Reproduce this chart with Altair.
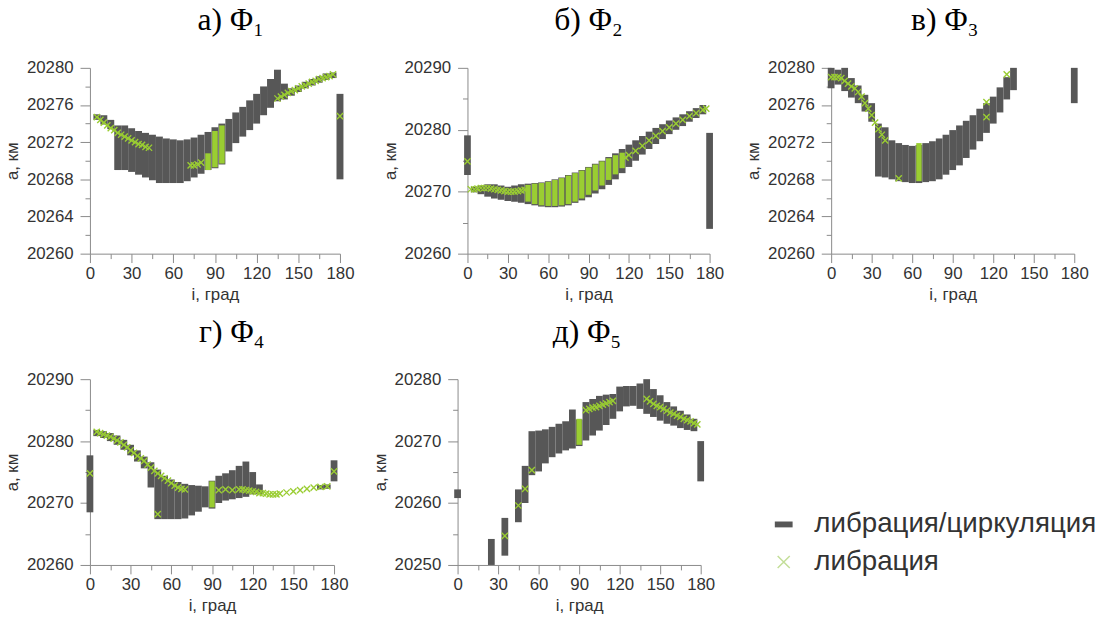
import altair as alt
import pandas as pd

GRAY = "#575757"
GREEN = "#9ACD32"
XCROSS = "M-1,-1L1,1M-1,1L1,-1"
DASH = "M-1,-0.33L1,-0.33L1,0.33L-1,0.33Z"

# ---------- а) Φ1 ----------
a_bar_i = [5, 10, 15, 20, 25, 30, 35, 40, 45, 50, 55, 60, 65, 70, 75, 80, 85, 90, 95, 100,
           105, 110, 115, 120, 125, 130, 135, 140, 145, 150, 155, 160, 165, 170, 175, 180]
a_bar_lo = [20274.4, 20273.9, 20273.4, 20269.0, 20269.0, 20268.8, 20268.5, 20268.2, 20267.9, 20267.6,
            20267.6, 20267.6, 20267.6, 20267.8, 20268.2, 20268.6, 20269.0, 20269.2, 20269.6, 20271.0,
            20271.9, 20272.6, 20273.3, 20274.0, 20274.9, 20275.7, 20276.4, 20276.6, 20277.0, 20277.4,
            20277.8, 20278.1, 20278.4, 20278.7, 20278.9, 20268.0]
a_bar_hi = [20275.0, 20274.9, 20274.4, 20273.8, 20273.8, 20273.5, 20273.2, 20273.0, 20272.8, 20272.6,
            20272.4, 20272.3, 20272.2, 20272.3, 20272.5, 20272.8, 20273.1, 20273.6, 20274.0, 20274.5,
            20275.2, 20275.8, 20276.5, 20277.2, 20278.0, 20278.8, 20279.8, 20278.3, 20277.8, 20278.1,
            20278.5, 20278.8, 20279.1, 20279.4, 20279.5, 20277.2]
a_lib_i = [85, 90, 95]
a_lib_lo = [20269.0, 20269.3, 20269.7]
a_lib_hi = [20270.8, 20273.2, 20273.8]
a_x_i = [5, 7.5, 10, 12.5, 15, 17.5, 20, 22.5, 25, 27.5, 30, 32.5, 35, 37.5, 40, 42.5,
         72.5, 75, 77.5, 80,
         135, 137.5, 140, 142.5, 145, 147.5, 150, 152.5, 155, 157.5, 160, 162.5, 165, 167.5, 170,
         172.5, 175, 180]
a_x_a = [20274.7, 20274.4, 20274.1, 20273.8, 20273.5, 20273.3, 20273.0, 20272.8, 20272.6, 20272.4,
         20272.2, 20272.0, 20271.8, 20271.7, 20271.5, 20271.4,
         20269.5, 20269.5, 20269.6, 20269.8,
         20276.7, 20276.9, 20277.1, 20277.3, 20277.5, 20277.6, 20277.8, 20278.0, 20278.1, 20278.3,
         20278.5, 20278.6, 20278.8, 20278.9, 20279.0, 20279.1, 20279.3, 20274.8]

# ---------- б) Φ2 ----------
b_bar_i = [0, 5, 10, 15, 20, 25, 30, 35, 40, 45, 50, 55, 60, 65, 70, 75, 80, 85, 90, 95, 100,
           105, 110, 115, 120, 125, 130, 135, 140, 145, 150, 155, 160, 165, 170, 175, 180]
b_bar_lo = [20272.7, 20269.9, 20269.6, 20269.2, 20268.9, 20268.7, 20268.5, 20268.4, 20268.2, 20268.0,
            20267.8, 20267.6, 20267.5, 20267.5, 20267.6, 20267.8, 20268.2, 20268.6, 20269.1, 20269.7,
            20270.4, 20271.1, 20272.0, 20273.0, 20274.0, 20275.0, 20276.0, 20276.9, 20277.7, 20278.5,
            20279.3, 20280.0, 20280.6, 20281.3, 20281.9, 20282.5, 20264.0]
b_bar_hi = [20279.1, 20270.8, 20271.0, 20271.2, 20271.2, 20271.0, 20270.8, 20271.0, 20271.2, 20271.3,
            20271.4, 20271.5, 20271.7, 20272.0, 20272.3, 20272.7, 20273.1, 20273.5, 20274.0, 20274.5,
            20275.0, 20275.6, 20276.2, 20276.9, 20277.6, 20278.3, 20279.0, 20279.7, 20280.3, 20280.9,
            20281.5, 20282.0, 20282.5, 20283.0, 20283.5, 20284.0, 20279.5]
b_lib_i = [45, 50, 55, 60, 65, 70, 75, 80, 85, 90, 95, 100, 105, 110, 115]
b_lib_lo = [20268.4, 20268.0, 20267.8, 20267.7, 20267.7, 20267.8, 20268.0, 20268.4, 20268.9, 20269.5,
            20270.2, 20271.0, 20271.9, 20272.8, 20273.8]
b_lib_hi = [20271.1, 20271.3, 20271.4, 20271.6, 20271.9, 20272.2, 20272.6, 20273.0, 20273.4, 20273.9,
            20274.4, 20274.9, 20275.4, 20275.9, 20276.3]
b_x_i = [0, 2.5, 5, 7.5, 10, 12.5, 15, 17.5, 20, 22.5, 25, 27.5, 30, 32.5, 35, 37.5, 40, 42.5,
         117.5, 120, 125, 130, 135, 140, 145, 150, 155, 160, 165, 170, 175, 177.5]
b_x_a = [20274.9, 20270.4, 20270.4, 20270.5, 20270.6, 20270.6, 20270.6, 20270.5, 20270.4, 20270.3,
         20270.2, 20270.1, 20270.0, 20270.0, 20270.0, 20270.1, 20270.2, 20270.3,
         20275.5, 20275.9, 20276.6, 20277.4, 20278.3, 20279.0, 20279.8, 20280.4, 20281.0, 20281.6,
         20282.2, 20282.7, 20283.2, 20283.4]

# ---------- в) Φ3 ----------
c_bar_i = [0, 5, 10, 15, 20, 25, 30, 35, 40, 45, 50, 55, 60, 65, 70, 75, 80, 85, 90, 95, 100,
           105, 110, 115, 120, 125, 130, 135, 180]
c_bar_lo = [20277.8, 20278.2, 20277.5, 20276.8, 20276.2, 20275.3, 20274.2, 20268.3, 20268.2, 20268.0,
            20267.8, 20267.7, 20267.6, 20267.6, 20267.7, 20267.8, 20268.0, 20268.5, 20269.0, 20269.5,
            20270.3, 20271.2, 20272.1, 20273.0, 20274.0, 20275.2, 20276.6, 20277.6, 20276.2]
c_bar_hi = [20280.0, 20279.8, 20280.0, 20278.9, 20278.1, 20277.1, 20276.2, 20274.0, 20273.6, 20272.2,
            20271.9, 20271.7, 20271.6, 20271.7, 20271.9, 20272.1, 20272.4, 20272.8, 20273.3, 20273.8,
            20274.3, 20274.9, 20275.6, 20276.2, 20276.9, 20277.9, 20279.0, 20280.0, 20280.0]
c_lib_i = [65]
c_lib_lo = [20267.8]
c_lib_hi = [20271.9]
c_x_i = [0, 2.5, 5, 7.5, 10, 12.5, 15, 17.5, 20, 22.5, 25, 27.5, 30, 32.5, 35, 37.5, 40,
         50, 115, 115, 130]
c_x_a = [20279.0, 20279.0, 20279.0, 20278.9, 20278.6, 20278.3, 20278.0, 20277.8, 20277.4, 20276.9,
         20276.2, 20275.6, 20274.9, 20274.1, 20273.4, 20272.8, 20272.2,
         20268.1, 20276.3, 20274.7, 20279.3]

# ---------- г) Φ4 ----------
d_bar_i = [0, 5, 10, 15, 20, 25, 30, 35, 40, 45, 50, 55, 60, 65, 70, 75, 80, 85, 90, 95, 100,
           105, 110, 115, 120, 125, 170, 175, 180]
d_bar_lo = [20268.5, 20280.8, 20280.5, 20280.0, 20279.4, 20278.6, 20277.7, 20276.7, 20275.6, 20272.5,
            20267.4, 20267.4, 20267.4, 20267.4, 20267.5, 20268.0, 20268.6, 20269.3, 20269.1, 20270.0,
            20270.4, 20270.6, 20270.8, 20271.0, 20271.4, 20271.4, 20272.2, 20272.3, 20273.5]
d_bar_hi = [20277.7, 20281.8, 20281.6, 20281.3, 20280.9, 20280.2, 20279.4, 20278.5, 20277.5, 20276.6,
            20275.4, 20274.4, 20273.8, 20273.4, 20273.1, 20272.9, 20272.8, 20272.7, 20273.6, 20274.4,
            20274.8, 20275.3, 20276.0, 20276.7, 20275.0, 20273.0, 20272.9, 20273.0, 20276.9]
d_lib_i = [90]
d_lib_lo = [20269.3]
d_lib_hi = [20273.5]
d_x_i = [0, 5, 7.5, 10, 12.5, 15, 17.5, 20, 22.5, 25, 27.5, 30, 32.5, 35, 37.5, 40, 42.5, 45,
         47.5, 50, 52.5, 55, 57.5, 60, 62.5, 65, 67.5, 70, 50, 95,
         100, 105, 110, 112.5, 115, 117.5, 120, 122.5, 125, 127.5, 130, 132.5, 135, 137.5, 140,
         145, 150, 155, 160, 165, 170, 175, 180]
d_x_a = [20274.8, 20281.5, 20281.3, 20281.1, 20280.9, 20280.7, 20280.4, 20280.1, 20279.8, 20279.4,
         20279.0, 20278.5, 20278.1, 20277.6, 20277.2, 20276.8, 20276.2, 20275.7, 20275.2, 20274.8,
         20274.4, 20274.0, 20273.6, 20273.2, 20272.8, 20272.5, 20272.3, 20272.2, 20268.2, 20272.1,
         20272.2, 20272.1, 20272.2, 20272.2, 20272.1, 20272.0, 20271.9, 20271.8, 20271.6, 20271.6,
         20271.5, 20271.4, 20271.4, 20271.4, 20271.5, 20271.7, 20271.9, 20272.1, 20272.3, 20272.5,
         20272.6, 20272.7, 20275.1]

# ---------- д) Φ5 ----------
e_bar_i = [0, 25, 35, 45, 50, 55, 60, 65, 70, 75, 80, 85, 90, 95, 100, 105, 110, 115, 120, 125,
           130, 135, 140, 145, 150, 155, 160, 165, 170, 175, 180]
e_bar_lo = [20260.8, 20250.0, 20251.5, 20256.9, 20260.0, 20264.5, 20265.1, 20266.4, 20267.4, 20268.0,
            20268.5, 20268.8, 20269.2, 20270.1, 20270.9, 20271.7, 20272.6, 20273.6, 20274.8, 20275.6,
            20275.7, 20275.2, 20274.4, 20273.9, 20273.3, 20272.8, 20272.5, 20272.1, 20271.8, 20271.6,
            20263.5]
e_bar_hi = [20262.2, 20254.2, 20257.6, 20262.2, 20266.0, 20271.6, 20271.7, 20271.9, 20272.3, 20272.8,
            20273.2, 20275.1, 20273.5, 20276.3, 20276.8, 20277.3, 20277.5, 20277.6, 20278.8, 20278.9,
            20278.9, 20279.3, 20280.0, 20278.4, 20277.4, 20276.3, 20275.6, 20274.9, 20274.3, 20273.6,
            20270.0]
e_lib_i = [90]
e_lib_lo = [20269.4]
e_lib_hi = [20273.6]
e_x_i = [35, 45, 50, 55, 95, 97.5, 100, 102.5, 105, 107.5, 110, 112.5, 115,
         140, 142.5, 145, 147.5, 150, 152.5, 155, 157.5, 160, 162.5, 165, 167.5, 170, 172.5, 175, 177.5]
e_x_a = [20254.7, 20259.6, 20262.3, 20265.3, 20275.0, 20275.2, 20275.4, 20275.5, 20275.7, 20275.9,
         20276.1, 20276.3, 20276.5,
         20276.8, 20276.4, 20276.0, 20275.7, 20275.5, 20275.2, 20274.9, 20274.6, 20274.4, 20274.1,
         20273.9, 20273.6, 20273.4, 20273.2, 20272.9, 20272.7]

legend_labels = ["либрация/циркуляция", "либрация"]

LABEL_FONT = "Liberation Sans"
AXIS_COLOR = "#8a8a8a"
TEXT_COLOR = "#333333"
PLOT_H = 188


def panel(title, bar_i, bar_lo, bar_hi, lib_i, lib_lo, lib_hi, x_i, x_a,
          ydom, ystep, ylab, width, title_dx):
    bars = pd.DataFrame({"i": bar_i, "lo": bar_lo, "hi": bar_hi})
    libs = pd.DataFrame({"i": lib_i, "lo": lib_lo, "hi": lib_hi})
    crosses = pd.DataFrame({"i": x_i, "a": x_a})

    xs = alt.Scale(domain=[0, 180], nice=False, zero=False)
    ys = alt.Scale(domain=ydom, nice=False, zero=False)
    xaxis = alt.Axis(
        values=list(range(0, 181, 15)),
        tickCount=100,
        labelExpr="datum.value % 30 == 0 ? datum.label : ''",
        labelOverlap=False,
        labelFlush=False,
        title="i, град",
        tickSize={"condition": {"test": "datum.value % 30 == 0", "value": 9}, "value": 5},
        labelPadding=3,
    )
    yaxis = alt.Axis(
        values=list(range(ydom[0], ydom[1] + 1, ystep)),
        tickCount=100,
        labelExpr=f"(datum.value - {ydom[0]}) % {ylab} == 0 ? datum.label : ''",
        labelOverlap=False,
        labelFlush=False,
        format="d",
        title="а, км",
        tickSize={"condition": {"test": f"(datum.value - {ydom[0]}) % {ylab} == 0", "value": 10},
                  "value": 5},
        labelPadding=7,
    )

    g = alt.Chart(bars).transform_calculate(
        x1="datum.i - 2.5", x2="datum.i + 2.5"
    ).mark_rect(color=GRAY, clip=False).encode(
        x=alt.X("x1:Q", scale=xs, axis=xaxis),
        x2="x2:Q",
        y=alt.Y("lo:Q", scale=ys, axis=yaxis),
        y2="hi:Q",
    )
    l = alt.Chart(libs).transform_calculate(
        x1="datum.i - 2.0", x2="datum.i + 2.0"
    ).mark_rect(color=GREEN).encode(
        x=alt.X("x1:Q", scale=xs), x2="x2:Q",
        y=alt.Y("lo:Q", scale=ys), y2="hi:Q",
    )
    c = alt.Chart(crosses).mark_point(
        shape=XCROSS, filled=False, stroke=GREEN, strokeWidth=1.4, size=40, opacity=1
    ).encode(
        x=alt.X("i:Q", scale=xs),
        y=alt.Y("a:Q", scale=ys),
    )
    return alt.layer(g, l, c).properties(
        width=width, height=PLOT_H,
        title=alt.TitleParams(title, font="Liberation Serif", fontSize=32,
                              fontWeight="normal", color="#000000", anchor="middle",
                              offset=22, dx=title_dx),
    )


pa = panel("а) Φ₁", a_bar_i, a_bar_lo, a_bar_hi, a_lib_i, a_lib_lo, a_lib_hi, a_x_i, a_x_a,
           [20260, 20280], 2, 4, 253, 16)
pb = panel("б) Φ₂", b_bar_i, b_bar_lo, b_bar_hi, b_lib_i, b_lib_lo, b_lib_hi, b_x_i, b_x_a,
           [20260, 20290], 5, 10, 245, 0)
pc = panel("в) Φ₃", c_bar_i, c_bar_lo, c_bar_hi, c_lib_i, c_lib_lo, c_lib_hi, c_x_i, c_x_a,
           [20260, 20280], 2, 4, 246, -8)
pd_ = panel("г) Φ₄", d_bar_i, d_bar_lo, d_bar_hi, d_lib_i, d_lib_lo, d_lib_hi, d_x_i, d_x_a,
            [20260, 20290], 5, 10, 247, 20)
pe = panel("д) Φ₅", e_bar_i, e_bar_lo, e_bar_hi, e_lib_i, e_lib_lo, e_lib_hi, e_x_i, e_x_a,
           [20250, 20280], 5, 10, 246, 8)

# ---------- legend ----------
leg = pd.DataFrame({"label": legend_labels})
ly = alt.Y("label:N", axis=None,
           scale=alt.Scale(type="point", domain=legend_labels, range=[147, 185], padding=0))
leg_bar = alt.Chart(leg).transform_filter(
    alt.datum.label == legend_labels[0]
).mark_point(shape=DASH, filled=True, color=GRAY, size=324, opacity=1).encode(
    x=alt.value(47), y=ly)
leg_x = alt.Chart(leg).transform_filter(
    alt.datum.label == legend_labels[1]
).mark_point(shape=XCROSS, filled=False, stroke="#c3de98", strokeWidth=1.5, size=150, opacity=1).encode(
    x=alt.value(47), y=ly)
leg_txt = alt.Chart(leg).mark_text(
    align="left", baseline="middle", font=LABEL_FONT, fontSize=28, color=TEXT_COLOR
).encode(x=alt.value(78), y=ly, text="label:N")
legend = alt.layer(leg_bar, leg_x, leg_txt).properties(width=350, height=PLOT_H)

top = alt.hconcat(alt.hconcat(pa, pb, spacing=26), pc, spacing=20)
bottom = alt.hconcat(pd_, pe, legend, spacing=22)

chart = alt.vconcat(top, bottom, spacing=14).properties(
    padding={"left": 3, "top": 1, "right": 0, "bottom": 0}
).configure_view(stroke=None).configure_axis(
    grid=False,
    domainColor=AXIS_COLOR,
    tickColor=AXIS_COLOR,
    labelFont=LABEL_FONT,
    labelFontSize=17,
    labelColor=TEXT_COLOR,
    titleFont=LABEL_FONT,
    titleFontSize=17,
    titleFontWeight="normal",
    titleColor=TEXT_COLOR,
    titlePadding=5,
)

chart.save("out.html", embed_options={"renderer": "svg", "actions": False})
